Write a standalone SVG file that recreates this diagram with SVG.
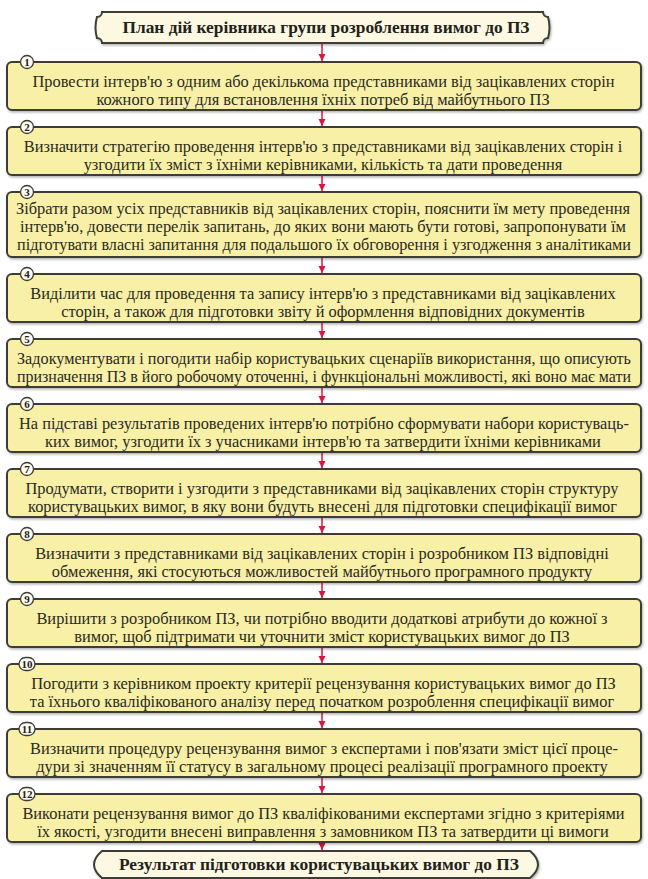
<svg xmlns="http://www.w3.org/2000/svg" width="648" height="879" viewBox="0 0 648 879">
<style>
.box{fill:#f8f0a6;stroke:#3c3c36;stroke-width:2;filter:url(#sh)}
.term{fill:#fcf8e2;stroke:#3c3c36;stroke-width:2;filter:url(#sh)}
.t{font-family:"Liberation Serif","Times New Roman",serif;font-size:16.4px;fill:#2b2a1e;text-anchor:middle}
.tb{font-family:"Liberation Serif","Times New Roman",serif;font-size:16px;font-weight:bold;fill:#22211a;text-anchor:middle}
.nc{fill:#fdfbef;stroke:#3c3c36;stroke-width:1.3}
.nt{font-family:"Liberation Serif","Times New Roman",serif;font-size:11px;font-weight:bold;fill:#22211a;text-anchor:middle}
.ar{stroke:#e0153f;stroke-width:1.5;fill:none;marker-end:url(#ah)}
</style>
<defs>
<filter id="sh" x="-5%" y="-20%" width="110%" height="150%">
<feDropShadow dx="1" dy="1.5" stdDeviation="1" flood-color="#000" flood-opacity="0.3"/>
</filter>
<marker id="ah" viewBox="0 0 10 10" refX="10" refY="5" markerWidth="7" markerHeight="8" markerUnits="userSpaceOnUse" orient="auto">
<path d="M0,0 L10,5 L0,10 z" fill="#e0153f"/>
</marker>
</defs>
<rect width="648" height="879" fill="#ffffff"/>

<g id="connectors">
<line class="ar" x1="322" y1="44" x2="322" y2="61"/>
<line class="ar" x1="322" y1="111" x2="322" y2="126"/>
<line class="ar" x1="322" y1="176" x2="322" y2="191"/>
<line class="ar" x1="322" y1="258" x2="322" y2="273"/>
<line class="ar" x1="322" y1="323" x2="322" y2="338"/>
<line class="ar" x1="322" y1="388" x2="322" y2="403"/>
<line class="ar" x1="322" y1="453" x2="322" y2="468"/>
<line class="ar" x1="322" y1="518" x2="322" y2="533"/>
<line class="ar" x1="322" y1="583" x2="322" y2="598"/>
<line class="ar" x1="322" y1="648" x2="322" y2="663"/>
<line class="ar" x1="322" y1="713" x2="322" y2="728"/>
<line class="ar" x1="322" y1="778" x2="322" y2="793"/>
<line class="ar" x1="322" y1="843" x2="322" y2="850"/>
</g>

<g id="title">
<path class="term" d="M102 12 H543 A5 5 0 0 0 548 17 Q551 27.5 548 38 A5 5 0 0 0 543 43 H102 A5 5 0 0 0 97 38 Q94 27.5 97 17 A5 5 0 0 0 102 12 Z"/>
<text class="tb" x="326" y="33" textLength="407" lengthAdjust="spacingAndGlyphs">План дій керівника групи розроблення вимог до ПЗ</text>
</g>

<g id="step1">
<rect class="box" x="7" y="62" width="634" height="48" rx="5"/>
<circle class="nc" cx="27" cy="62" r="6.5"/><text class="nt" x="27" y="66">1</text>
<text class="t" x="323.5" y="87">Провести інтерв'ю з одним або декількома представниками від зацікавлених сторін</text>
<text class="t" x="323" y="105">кожного типу для встановлення їхніх потреб від майбутнього ПЗ</text>
</g>

<g id="step2">
<rect class="box" x="7" y="127" width="634" height="48" rx="5"/>
<circle class="nc" cx="27" cy="127" r="6.5"/><text class="nt" x="27" y="131">2</text>
<text class="t" x="323" y="152">Визначити стратегію проведення інтерв'ю з представниками від зацікавлених сторін і</text>
<text class="t" x="323" y="170">узгодити їх зміст з їхніми керівниками, кількість та дати проведення</text>
</g>

<g id="step3">
<rect class="box" x="7" y="192" width="634" height="65" rx="5"/>
<circle class="nc" cx="27" cy="192" r="6.5"/><text class="nt" x="27" y="196">3</text>
<text class="t" x="323" y="214" textLength="614" lengthAdjust="spacingAndGlyphs">Зібрати разом усіх представників від зацікавлених сторін, пояснити їм мету проведення</text>
<text class="t" x="323" y="232" textLength="606" lengthAdjust="spacingAndGlyphs">інтерв'ю, довести перелік запитань, до яких вони мають бути готові, запропонувати їм</text>
<text class="t" x="324" y="250" textLength="614" lengthAdjust="spacingAndGlyphs">підготувати власні запитання для подальшого їх обговорення і узгодження з аналітиками</text>
</g>

<g id="step4">
<rect class="box" x="7" y="274" width="634" height="48" rx="5"/>
<circle class="nc" cx="27" cy="274" r="6.5"/><text class="nt" x="27" y="278">4</text>
<text class="t" x="323" y="299">Виділити час для проведення та запису інтерв'ю з представниками від зацікавлених</text>
<text class="t" x="323" y="317">сторін, а також для підготовки звіту й оформлення відповідних документів</text>
</g>

<g id="step5">
<rect class="box" x="7" y="339" width="634" height="48" rx="5"/>
<circle class="nc" cx="27" cy="339" r="6.5"/><text class="nt" x="27" y="343">5</text>
<text class="t" x="324" y="364" textLength="614" lengthAdjust="spacingAndGlyphs">Задокументувати і погодити набір користувацьких сценаріїв використання, що описують</text>
<text class="t" x="324" y="382" textLength="614" lengthAdjust="spacingAndGlyphs">призначення ПЗ в його робочому оточенні, і функціональні можливості, які воно має мати</text>
</g>

<g id="step6">
<rect class="box" x="7" y="404" width="634" height="48" rx="5"/>
<circle class="nc" cx="27" cy="404" r="6.5"/><text class="nt" x="27" y="408">6</text>
<text class="t" x="324" y="429" textLength="610" lengthAdjust="spacingAndGlyphs">На підставі результатів проведених інтерв'ю потрібно сформувати набори користуваць-</text>
<text class="t" x="323" y="447">ких вимог, узгодити їх з учасниками інтерв'ю та затвердити їхніми керівниками</text>
</g>

<g id="step7">
<rect class="box" x="7" y="469" width="634" height="48" rx="5"/>
<circle class="nc" cx="27" cy="469" r="6.5"/><text class="nt" x="27" y="473">7</text>
<text class="t" x="322" y="494">Продумати, створити і узгодити з представниками від зацікавлених сторін структуру</text>
<text class="t" x="322.5" y="512">користувацьких вимог, в яку вони будуть внесені для підготовки специфікації вимог</text>
</g>

<g id="step8">
<rect class="box" x="7" y="534" width="634" height="48" rx="5"/>
<circle class="nc" cx="27" cy="534" r="6.5"/><text class="nt" x="27" y="538">8</text>
<text class="t" x="322" y="559">Визначити з представниками від зацікавлених сторін і розробником ПЗ відповідні</text>
<text class="t" x="322" y="577">обмеження, які стосуються можливостей майбутнього програмного продукту</text>
</g>

<g id="step9">
<rect class="box" x="7" y="599" width="634" height="48" rx="5"/>
<circle class="nc" cx="27" cy="599" r="6.5"/><text class="nt" x="27" y="603">9</text>
<text class="t" x="322" y="624">Вирішити з розробником ПЗ, чи потрібно вводити додаткові атрибути до кожної з</text>
<text class="t" x="322" y="642">вимог, щоб підтримати чи уточнити зміст користувацьких вимог до ПЗ</text>
</g>

<g id="step10">
<rect class="box" x="7" y="664" width="634" height="48" rx="5"/>
<rect class="nc" x="19" y="657.5" width="16" height="13" rx="6.5"/><text class="nt" x="27" y="668">10</text>
<text class="t" x="323.5" y="689">Погодити з керівником проекту критерії рецензування користувацьких вимог до ПЗ</text>
<text class="t" x="322" y="707">та їхнього кваліфікованого аналізу перед початком розроблення специфікації вимог</text>
</g>

<g id="step11">
<rect class="box" x="7" y="729" width="634" height="48" rx="5"/>
<rect class="nc" x="19" y="722.5" width="16" height="13" rx="6.5"/><text class="nt" x="27" y="733">11</text>
<text class="t" x="324" y="754">Визначити процедуру рецензування вимог з експертами і пов'язати зміст цієї проце-</text>
<text class="t" x="322" y="772">дури зі значенням її статусу в загальному процесі реалізації програмного проекту</text>
</g>

<g id="step12">
<rect class="box" x="7" y="794" width="634" height="48" rx="5"/>
<rect class="nc" x="19" y="787.5" width="16" height="13" rx="6.5"/><text class="nt" x="27" y="798">12</text>
<text class="t" x="323.5" y="819">Виконати рецензування вимог до ПЗ кваліфікованими експертами згідно з критеріями</text>
<text class="t" x="323" y="837">їх якості, узгодити внесені виправлення з замовником ПЗ та затвердити ці вимоги</text>
</g>

<g id="result">
<path class="term" d="M102 851 H530 Q546 864.5 530 878 H102 Q86 864.5 102 851 Z"/>
<text class="tb" x="319" y="870" textLength="400" lengthAdjust="spacingAndGlyphs">Результат підготовки користувацьких вимог до ПЗ</text>
</g>
</svg>
